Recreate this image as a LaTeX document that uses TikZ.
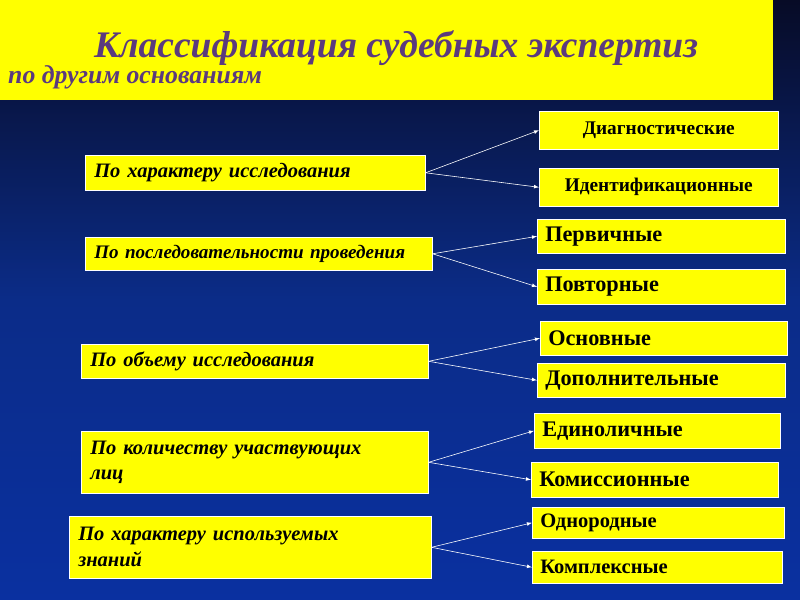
\documentclass[tikz,border=0pt]{standalone}
\usepackage{fontspec}
\setmainfont{Liberation Serif}
\definecolor{navytop}{HTML}{070B26}
\definecolor{navymid}{HTML}{0B2C88}
\definecolor{navybot}{HTML}{0A30A0}
\definecolor{titlepurple}{HTML}{5B3A7E}
\definecolor{boxyellow}{HTML}{FFFF00}
\begin{document}
\begin{tikzpicture}[x=0.03cm, y=-0.03cm,
    leftbox/.style={draw=white, line width=0.5pt, fill=boxyellow, anchor=north west,
        inner xsep=9*0.03cm, inner ysep=0pt,
        font=\fontsize{17.5}{22}\selectfont\bfseries\itshape, align=left},
    rightbox/.style={draw=white, line width=0.5pt, fill=boxyellow, anchor=north west,
        inner xsep=8*0.03cm, inner ysep=0pt, align=left,
        font=\fontsize{19}{21}\selectfont\bfseries},
    smallbox/.style={rightbox, align=center, font=\fontsize{16.5}{18}\selectfont\bfseries},
    link/.style={draw=white, line width=0.5pt, -latex}]

    % background
    \shade[top color=navytop, bottom color=navybot, middle color=navymid] (0,0) rectangle (800,600);
    \useasboundingbox (0,0) rectangle (800,600);

    % title
    \fill[boxyellow] (0,0) rectangle (773,100);
    \node[text=titlepurple, font=\fontsize{32}{34}\selectfont\bfseries\itshape] (title) at (396,48) {Классификация судебных экспертиз};
    \node[text=titlepurple, font=\fontsize{22}{24}\selectfont\bfseries\itshape, anchor=west, inner sep=0pt] (subtitle) at (8,77) {по другим основаниям};

    % left boxes
    \node[leftbox, minimum width=340*0.03cm, minimum height=35*0.03cm, text width=322*0.03cm] (character) at (85,155) {По характеру исследования};
    \node[leftbox, minimum width=347*0.03cm, minimum height=33*0.03cm, text width=329*0.03cm,
        font=\fontsize{16.3}{20}\selectfont\bfseries\itshape] (sequence) at (85,237) {По последовательности проведения};
    \node[leftbox, minimum width=347*0.03cm, minimum height=34*0.03cm, text width=329*0.03cm] (volume) at (81,344) {По объему исследования};
    \node[leftbox, minimum width=347*0.03cm, minimum height=62*0.03cm, text width=329*0.03cm] (persons) at (81,431) {По количеству участвующих\\лиц};
    \node[leftbox, minimum width=362*0.03cm, minimum height=62*0.03cm, text width=344*0.03cm] (knowledge) at (69,516) {По характеру используемых\\знаний};

    % right boxes
    \node[smallbox, minimum width=239*0.03cm, minimum height=38*0.03cm, text width=223*0.03cm] (diag) at (539,111) {Диагностические};
    \node[smallbox, minimum width=239*0.03cm, minimum height=38*0.03cm, text width=223*0.03cm] (ident) at (539,168) {Идентификационные};
    \node[rightbox, minimum width=248*0.03cm, minimum height=34*0.03cm, text width=232*0.03cm] (primary) at (537,219) {Первичные};
    \node[rightbox, minimum width=248*0.03cm, minimum height=35*0.03cm, text width=232*0.03cm] (repeat) at (537,269) {Повторные};
    \node[rightbox, minimum width=247*0.03cm, minimum height=34*0.03cm, text width=231*0.03cm] (basic) at (540,321) {Основные};
    \node[rightbox, minimum width=248*0.03cm, minimum height=34*0.03cm, text width=232*0.03cm] (additional) at (537,363) {Дополнительные};
    \node[rightbox, minimum width=246*0.03cm, minimum height=35*0.03cm, text width=230*0.03cm] (single) at (534,413) {Единоличные};
    \node[rightbox, minimum width=247*0.03cm, minimum height=35*0.03cm, text width=231*0.03cm] (commission) at (531,462) {Комиссионные};
    \node[rightbox, minimum width=252*0.03cm, minimum height=31*0.03cm, text width=236*0.03cm, font=\fontsize{17.5}{19}\selectfont\bfseries] (homogeneous) at (532,507) {Однородные};
    \node[rightbox, minimum width=250*0.03cm, minimum height=32*0.03cm, text width=234*0.03cm, font=\fontsize{17.5}{19}\selectfont\bfseries] (complex) at (532,551) {Комплексные};

    % arrows
    \draw[link] (character.east) -- (diag.west);
    \draw[link] (character.east) -- (ident.west);
    \draw[link] (sequence.east) -- (primary.west);
    \draw[link] (sequence.east) -- (repeat.west);
    \draw[link] (volume.east) -- (basic.west);
    \draw[link] (volume.east) -- (additional.west);
    \draw[link] (persons.east) -- (single.west);
    \draw[link] (persons.east) -- (commission.west);
    \draw[link] (knowledge.east) -- (homogeneous.west);
    \draw[link] (knowledge.east) -- (complex.west);
\end{tikzpicture}
\end{document}
